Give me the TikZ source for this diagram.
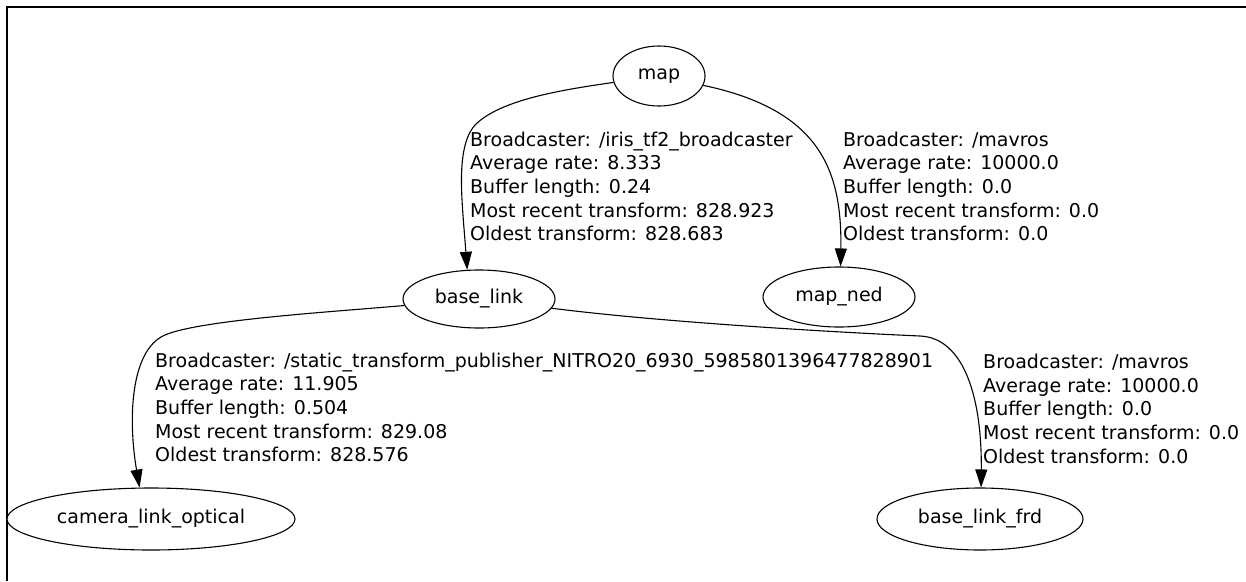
\documentclass[tikz,border=0pt]{standalone}
\usepackage{fontspec}
\setmainfont{DejaVu Sans}
\usetikzlibrary{shapes.geometric,arrows.meta}
\begin{document}
\begin{tikzpicture}[x=1pt,y=-1pt,
  frameline/.style={line width=2pt, black},
  tfnode/.style={draw, ellipse, line width=1.1pt, inner sep=0pt, fill=white, font=\fontsize{19}{23.6}\selectfont},
  tfedge/.style={line width=1.1pt, -{Triangle[length=18pt,width=12pt]}},
  infotext/.style={anchor=north west, inner sep=0pt, align=left, font=\fontsize{19}{23.6}\selectfont}]
\useasboundingbox (0,0) rectangle (1246,581);
\fill[white] (0,0) rectangle (1246,581);
\coordinate (frameTL) at (6.5,7.3);
\coordinate (frameTR) at (1246,7.3);
\coordinate (frameBL) at (6.5,581);
\draw[frameline] (frameTR) -- (frameTL) -- (frameBL);

\node[tfnode, minimum width=92pt, minimum height=60pt] (map) at (659,76) {map};
\node[tfnode, minimum width=152pt, minimum height=58pt] (baselink) at (479,299) {base\_link};
\node[tfnode, minimum width=152pt, minimum height=60pt] (mapned) at (839,297) {map\_ned};
\node[tfnode, minimum width=288pt, minimum height=62pt] (camera) at (151,519) {camera\_link\_optical};
\node[tfnode, minimum width=206pt, minimum height=62pt] (frd) at (980,519) {base\_link\_frd};

\node[infotext] (lblA) at (470,131.6) {Broadcaster: /iris\_tf2\_broadcaster\\Average rate: 8.333\\Buffer length: 0.24\\Most recent transform: 828.923\\Oldest transform: 828.683};
\node[infotext] (lblB) at (843,131.6) {Broadcaster: /mavros\\Average rate: 10000.0\\Buffer length: 0.0\\Most recent transform: 0.0\\Oldest transform: 0.0};
\node[infotext] (lblC) at (155,352.6) {Broadcaster: /static\_transform\_publisher\_NITRO20\_6930\_5985801396477828901\\Average rate: 11.905\\Buffer length: 0.504\\Most recent transform: 829.08\\Oldest transform: 828.576};
\node[infotext] (lblD) at (983,354) {Broadcaster: /mavros\\Average rate: 10000.0\\Buffer length: 0.0\\Most recent transform: 0.0\\Oldest transform: 0.0};

\draw[tfedge] (map) .. controls (560,90) and (500,100) .. (475,125) .. controls (455,148) and (462,200) .. (baselink.112);
\draw[tfedge] (map) .. controls (820,110) and (842,170) .. (mapned.87);
\draw[tfedge] (baselink) .. controls (330,312) and (200,320) .. (165,335) .. controls (130,350) and (128,420) .. (camera.110);
\draw[tfedge] (baselink) .. controls (660,322) and (830,332) .. (920,336) .. controls (965,338) and (982,400) .. (frd.88);
\end{tikzpicture}
\end{document}
